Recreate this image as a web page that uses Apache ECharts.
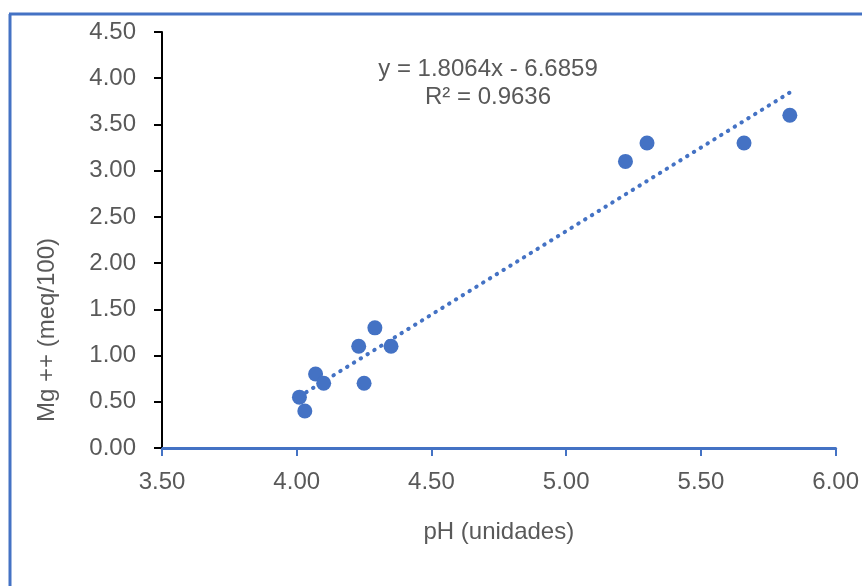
<!DOCTYPE html>
<html>
<head>
<meta charset="utf-8">
<script src="https://cdn.jsdelivr.net/npm/echarts@6/dist/echarts.min.js"></script>
<style>
html, body { margin: 0; padding: 0; background: #fff; }
#chart { width: 862px; height: 586px; }
</style>
</head>
<body>
<div id="chart"></div>
<script>
// pH vs Mg++ readings
var phValues = [4.01, 4.03, 4.07, 4.10, 4.23, 4.25, 4.29, 4.35, 5.22, 5.30, 5.66, 5.83];
var mgValues = [0.55, 0.40, 0.80, 0.70, 1.10, 0.70, 1.30, 1.10, 3.10, 3.30, 3.30, 3.60];
var slope = 1.8064;
var intercept = -6.6859;
var eqLabel = 'y = 1.8064x - 6.6859';
var r2Label = 'R² = 0.9636';

var blue = '#4472C4';
var grey = '#595959';
var font = 'Liberation Sans, Arial, sans-serif';

var points = [];
for (var i = 0; i < phValues.length; i++) {
	points.push([phValues[i], mgValues[i]]);
}
var xMin = Math.min.apply(null, phValues);
var xMax = Math.max.apply(null, phValues);
var trend = [
	[xMin, slope * xMin + intercept],
	[xMax, slope * xMax + intercept]
];

var chart = echarts.init(document.getElementById('chart'));
var option = {
	animation: false,
	backgroundColor: '#fff',
	grid: { left: 162, right: 24, top: 32, bottom: 138 },
	xAxis: {
		type: 'value',
		min: 3.5, max: 6, interval: 0.5,
		name: 'pH (unidades)',
		nameLocation: 'middle',
		nameGap: 72,
		nameTextStyle: { color: grey, fontSize: 24, fontFamily: font },
		axisLine: { lineStyle: { color: blue, width: 3 } },
		axisTick: { show: true, length: 8, lineStyle: { color: blue, width: 2 } },
		axisLabel: {
			color: grey, fontSize: 24, fontFamily: font, margin: 22,
			formatter: function (v) { return v.toFixed(2); }
		},
		splitLine: { show: false }
	},
	yAxis: {
		type: 'value',
		min: 0, max: 4.5, interval: 0.5,
		axisLine: { show: true, lineStyle: { color: '#000', width: 2 } },
		axisTick: { show: true, length: 8, lineStyle: { color: '#000', width: 2 } },
		axisLabel: {
			color: grey, fontSize: 24, fontFamily: font, margin: 26,
			formatter: function (v) { return v.toFixed(2); }
		},
		splitLine: { show: false }
	},
	series: [
		{
			type: 'line',
			data: trend,
			symbol: 'none',
			z: 1,
			lineStyle: { color: blue, width: 4, type: [0.5, 7.5], cap: 'round' }
		},
		{
			type: 'scatter',
			data: points,
			symbolSize: 15,
			z: 2,
			itemStyle: { color: blue, opacity: 1 }
		}
	],
	graphic: [
		{ type: 'line', shape: { x1: 10, y1: 14, x2: 10, y2: 586 }, style: { stroke: blue, lineWidth: 3 } },
		{ type: 'line', shape: { x1: 9, y1: 14, x2: 862, y2: 14 }, style: { stroke: blue, lineWidth: 3 } },
		{
			type: 'text', x: 488, y: 69,
			style: { text: eqLabel, fill: grey, fontSize: 24, fontFamily: font, align: 'center', verticalAlign: 'middle' }
		},
		{
			type: 'text', x: 488, y: 97,
			style: { text: r2Label, fill: grey, fontSize: 24, fontFamily: font, align: 'center', verticalAlign: 'middle' }
		},
		{
			type: 'text', x: 47, y: 330, rotation: Math.PI / 2,
			style: { text: 'Mg ++ (meq/100)', fill: grey, fontSize: 24, fontFamily: font, align: 'center', verticalAlign: 'middle' }
		}
	]
};
chart.setOption(option);
</script>
</body>
</html>
